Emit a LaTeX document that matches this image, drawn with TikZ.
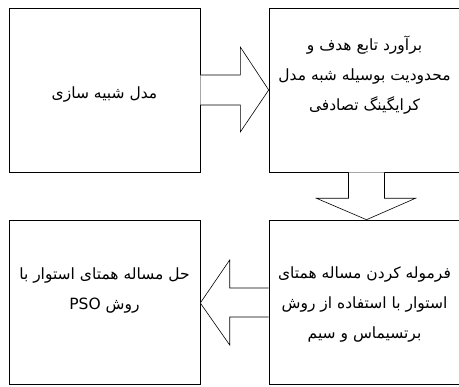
\documentclass[tikz,border=0pt]{standalone}
\usepackage{fontspec}
\TeXXeTstate=1
\newfontfamily\arabicfont[Script=Arabic]{DejaVu Sans}
\usetikzlibrary{calc}
\begin{document}
\begin{tikzpicture}[x=1pt,y=-1pt,
  box/.style={draw,line width=0.6pt,minimum width=191pt,minimum height=164pt,inner sep=0pt},
  txt/.style={align=center,font=\arabicfont\fontsize{15.5}{30}\selectfont,inner sep=0pt},
  blockarrow/.style={draw,line width=0.6pt,fill=white,line join=miter}]
\useasboundingbox (0,0) rectangle (459,387);
\node[box] (b1) at (104.5,90) {};
\node[box] (b2) at (364.5,90) {};
\node[box] (b3) at (104.5,302) {};
\node[box] (b4) at (364.5,302) {};
\node[txt] (t1) at (104.5,95) {\beginR مدل شبیه سازی\endR};
\node[txt] (t2) at (364.5,75) {\beginR برآورد تابع هدف و\endR\\\beginR محدودیت بوسیله شبه مدل\endR\\\beginR کرایگینگ تصادفی\endR};
\node[txt] (t3) at (104.5,291) {\beginR حل مساله همتای استوار با\endR\\\beginR روش \beginL PSO\endL\endR};
\node[txt] (t4) at (364.5,305) {\beginR فرموله کردن مساله همتای\endR\\\beginR استوار با استفاده از روش\endR\\\beginR برتسیماس و سیم\endR};
% right arrow b1 -> b2
\draw[blockarrow] ($(b1.east)+(0,-15)$) -- ($(b1.east)+(40,-15)$) -- ($(b1.east)+(40,-43)$)
  -- (b2.west) -- ($(b1.east)+(40,42)$) -- ($(b1.east)+(40,15)$) -- ($(b1.east)+(0,15)$);
% down arrow b2 -> b4
\draw[blockarrow] ($(b2.south)+(-16,0)$) -- ($(b2.south)+(-16,26)$) -- ($(b2.south)+(-48,26)$)
  -- ($(b4.north)+(2,0)$) -- ($(b2.south)+(51,26)$) -- ($(b2.south)+(20,26)$) -- ($(b2.south)+(20,0)$);
% left arrow b4 -> b3
\draw[blockarrow] ($(b4.west)+(0,-14)$) -- ($(b4.west)+(-39,-14)$) -- ($(b4.west)+(-39,-42)$)
  -- ($(b3.east)+(0,1)$) -- ($(b4.west)+(-39,43)$) -- ($(b4.west)+(-39,15)$) -- ($(b4.west)+(0,15)$);
\end{tikzpicture}
\end{document}
